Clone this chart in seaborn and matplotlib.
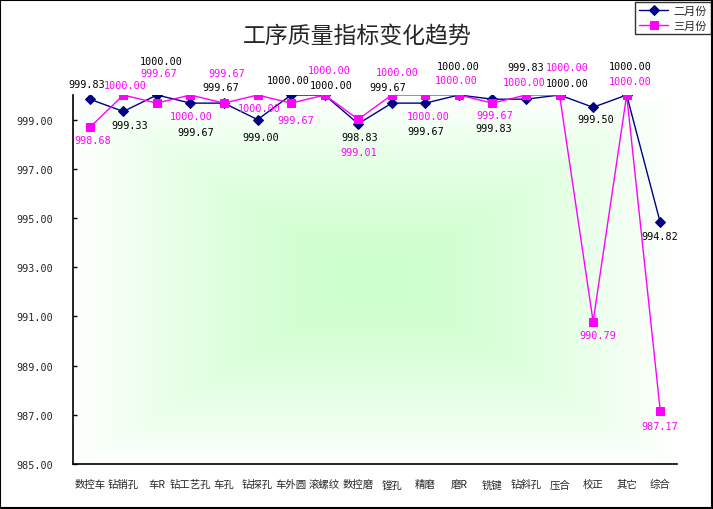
import numpy as np
import pandas as pd
import matplotlib
matplotlib.use("Agg")
import matplotlib.pyplot as plt
import matplotlib.patches as mpatches
from matplotlib.colors import LinearSegmentedColormap
import seaborn as sns

# ---------------- data ----------------
categories = ["数控车", "钻销孔", "车R", "钻工艺孔", "车孔", "钻探孔", "车外圆", "滚螺纹",
              "数控磨", "镗孔", "精磨", "磨R", "铣键", "钻斜孔", "压合", "校正", "其它", "综合"]
feb = [999.83, 999.33, 1000.00, 999.67, 999.67, 999.00, 1000.00, 1000.00, 998.83,
       999.67, 999.67, 1000.00, 999.83, 999.83, 1000.00, 999.50, 1000.00, 994.82]
mar = [998.68, 1000.00, 999.67, 1000.00, 999.67, 1000.00, 999.67, 1000.00, 999.01,
       1000.00, 1000.00, 1000.00, 999.67, 1000.00, 1000.00, 990.79, 1000.00, 987.17]
series_names = ["二月份", "三月份"]
yticks = [985, 987, 989, 991, 993, 995, 997, 999]
title = "工序质量指标变化趋势"

# label offsets (pixels, dx, dy screen-down) -- styling only
feb_off = [(-3, -15), (6, 14), (4, -34), (5, 29), (-3, -16), (3, 17), (-3, -15), (7, -10), (2, 13),
           (-4, -16), (0, 28), (-1, -29), (1, 29), (0, -32), (8, -12), (3, 12), (4, -29), (0, 14)]
mar_off = [(3, 13), (2, -10), (2, -30), (1, 21), (3, -30), (2, 13), (5, 17), (5, -25), (1, 33),
           (5, -23), (3, 21), (-3, -15), (2, 12), (-2, -13), (8, -28), (5, 13), (4, -14), (0, 15)]

BLUE = "#000080"
PINK = "#FF00FF"

sns.set_style("white")
plt.rcParams["font.family"] = ["Noto Sans CJK SC", "DejaVu Sans"]

fig = plt.figure(figsize=(7.13, 5.10), dpi=100)
ax = fig.add_axes([73 / 713, 45 / 510, 604 / 713, 369 / 510])

# gradient background (from center)
u = np.linspace(-1, 1, 300)
U, V = np.meshgrid(u, u)
T = np.maximum(np.abs(U), np.abs(V)) ** 1.5
cmap = LinearSegmentedColormap.from_list("g", ["#ccffcc", "#ffffff"])
ax.imshow(T, cmap=cmap, extent=[-0.5, 17.5, 985, 1000], aspect="auto", zorder=0,
          interpolation="bilinear")

df = pd.DataFrame({"cat": categories, "feb": feb, "mar": mar})
x = np.arange(len(categories))
df["x"] = x

sns.lineplot(data=df, x="x", y="feb", color=BLUE, marker="D", markersize=5.5,
             markeredgecolor=BLUE, linewidth=1, ax=ax, label=series_names[0], zorder=3)
sns.lineplot(data=df, x="x", y="mar", color=PINK, marker="s", markersize=6,
             markeredgecolor=PINK, linewidth=1, ax=ax, label=series_names[1], zorder=3)

for i in range(len(categories)):
    ax.annotate(f"{feb[i]:.2f}", (x[i], feb[i]), xytext=(feb_off[i][0], -feb_off[i][1]),
                textcoords="offset pixels", ha="center", va="center", fontsize=7.3,
                family="DejaVu Sans Mono", color="black", zorder=5)
    ax.annotate(f"{mar[i]:.2f}", (x[i], mar[i]), xytext=(mar_off[i][0], -mar_off[i][1]),
                textcoords="offset pixels", ha="center", va="center", fontsize=7.3,
                family="DejaVu Sans Mono", color=PINK, zorder=5)

ax.set_xlim(-0.5, 17.5)
ax.set_ylim(985, 1000)
ax.set_xticks(x)
ax.set_xticklabels(categories, fontsize=7.5)
ax.set_xticks(np.arange(-0.5, 18, 1), minor=True)
ax.tick_params(axis="x", which="major", length=0, pad=11)
ax.tick_params(axis="x", which="minor", direction="in", length=3, width=1, color="black")
ax.set_yticks(yticks)
ax.set_yticklabels([f"{v:.2f}" for v in yticks], family="DejaVu Sans Mono", fontsize=7.3)
ax.tick_params(axis="y", direction="in", length=3, width=1, color="black", pad=14, left=True)
ax.set_xlabel("")
ax.set_ylabel("")
for s in ["top", "right"]:
    ax.spines[s].set_visible(False)
for s in ["left", "bottom"]:
    ax.spines[s].set_color("black")
    ax.spines[s].set_linewidth(1.2)
ax.grid(False)

leg = ax.legend(loc="upper right", bbox_to_anchor=(711 / 713, 1 - 3 / 510),
                bbox_transform=fig.transFigure, fontsize=8, frameon=True, fancybox=False,
                edgecolor="black", handlelength=2.6, borderpad=0.35, labelspacing=0.35,
                handletextpad=0.5, borderaxespad=0)
leg.get_frame().set_linewidth(1)

fig.text(357 / 713, 1 - 36 / 510, title, ha="center", va="center", fontsize=16.5)

fig.add_artist(mpatches.Rectangle((0.0005, 0.001), 0.998, 0.997, transform=fig.transFigure,
                                  fill=False, edgecolor="black", linewidth=1.5))

fig.savefig("out.png", dpi=100)
